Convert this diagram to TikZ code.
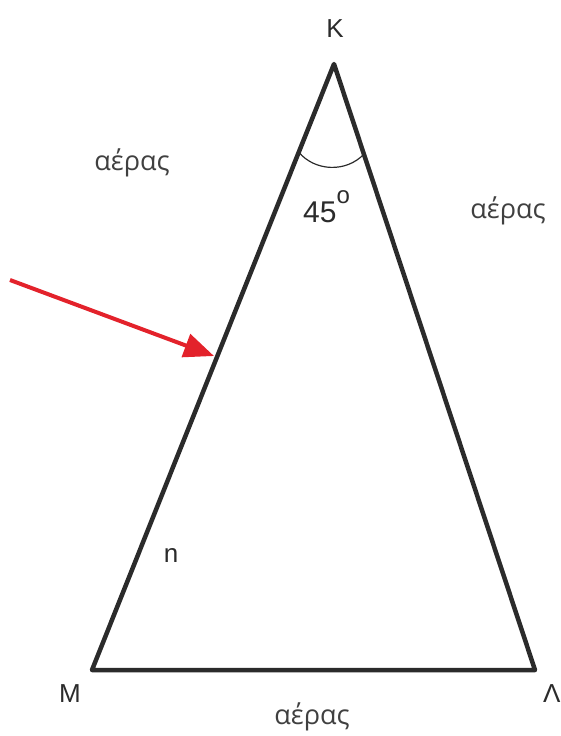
\documentclass[tikz,border=0pt]{standalone}
\usepackage{fontspec}
\setmainfont{Liberation Sans}
\newfontfamily\greekfont{Open Sans}
\usetikzlibrary{calc,arrows.meta}
\definecolor{edge}{HTML}{2B2B2B}
\definecolor{ray}{HTML}{E3222B}
\tikzset{
  prism/.style={draw=edge,line width=4.5pt,line join=round},
  lbl/.style={anchor=base,inner sep=0pt,text=edge,font=\fontsize{26}{30}\selectfont},
  air/.style={anchor=base,inner sep=0pt,text=edge!90,font=\greekfont\fontsize{27}{31}\selectfont}
}

\begin{document}
\begin{tikzpicture}[x=1pt,y=-1pt]
\useasboundingbox (0,0) rectangle (560,736);

% vertices
\coordinate (K) at (334,64);
\coordinate (M) at (92,670);
\coordinate (L) at (535,670);

% prism
\draw[prism] (K) -- (M) -- (L) -- cycle;

% angle at K
\coordinate (a1) at ($(K)!95pt!(M)$);
\coordinate (a2) at ($(K)!95pt!(L)$);
\draw[edge,line width=1.2pt] (a1) to[bend right=48] (a2);

% incoming ray
\coordinate (src) at (10,280);
\coordinate (hit) at (214,356);
\draw[ray,line width=4pt,-{Triangle[length=30pt,width=24pt]}] (src) -- (hit);

% labels
\node[lbl] (k) at (335,37) {K};
\node[lbl] (m) at (70,702) {M};
\node[lbl,anchor=base west] (l) at (543,702) {Λ};
\node[lbl] (n) at (171,562) {n};
\node[lbl,anchor=base west,font=\fontsize{30}{34}\selectfont] (deg) at (303,222) {45\raisebox{19pt}{\fontsize{24}{28}\selectfont o}};

\node[air] (air1) at (132,170) {αέρας};
\node[air] (air2) at (508,218) {αέρας};
\node[air] (air3) at (312,724) {αέρας};

\end{tikzpicture}
\end{document}
